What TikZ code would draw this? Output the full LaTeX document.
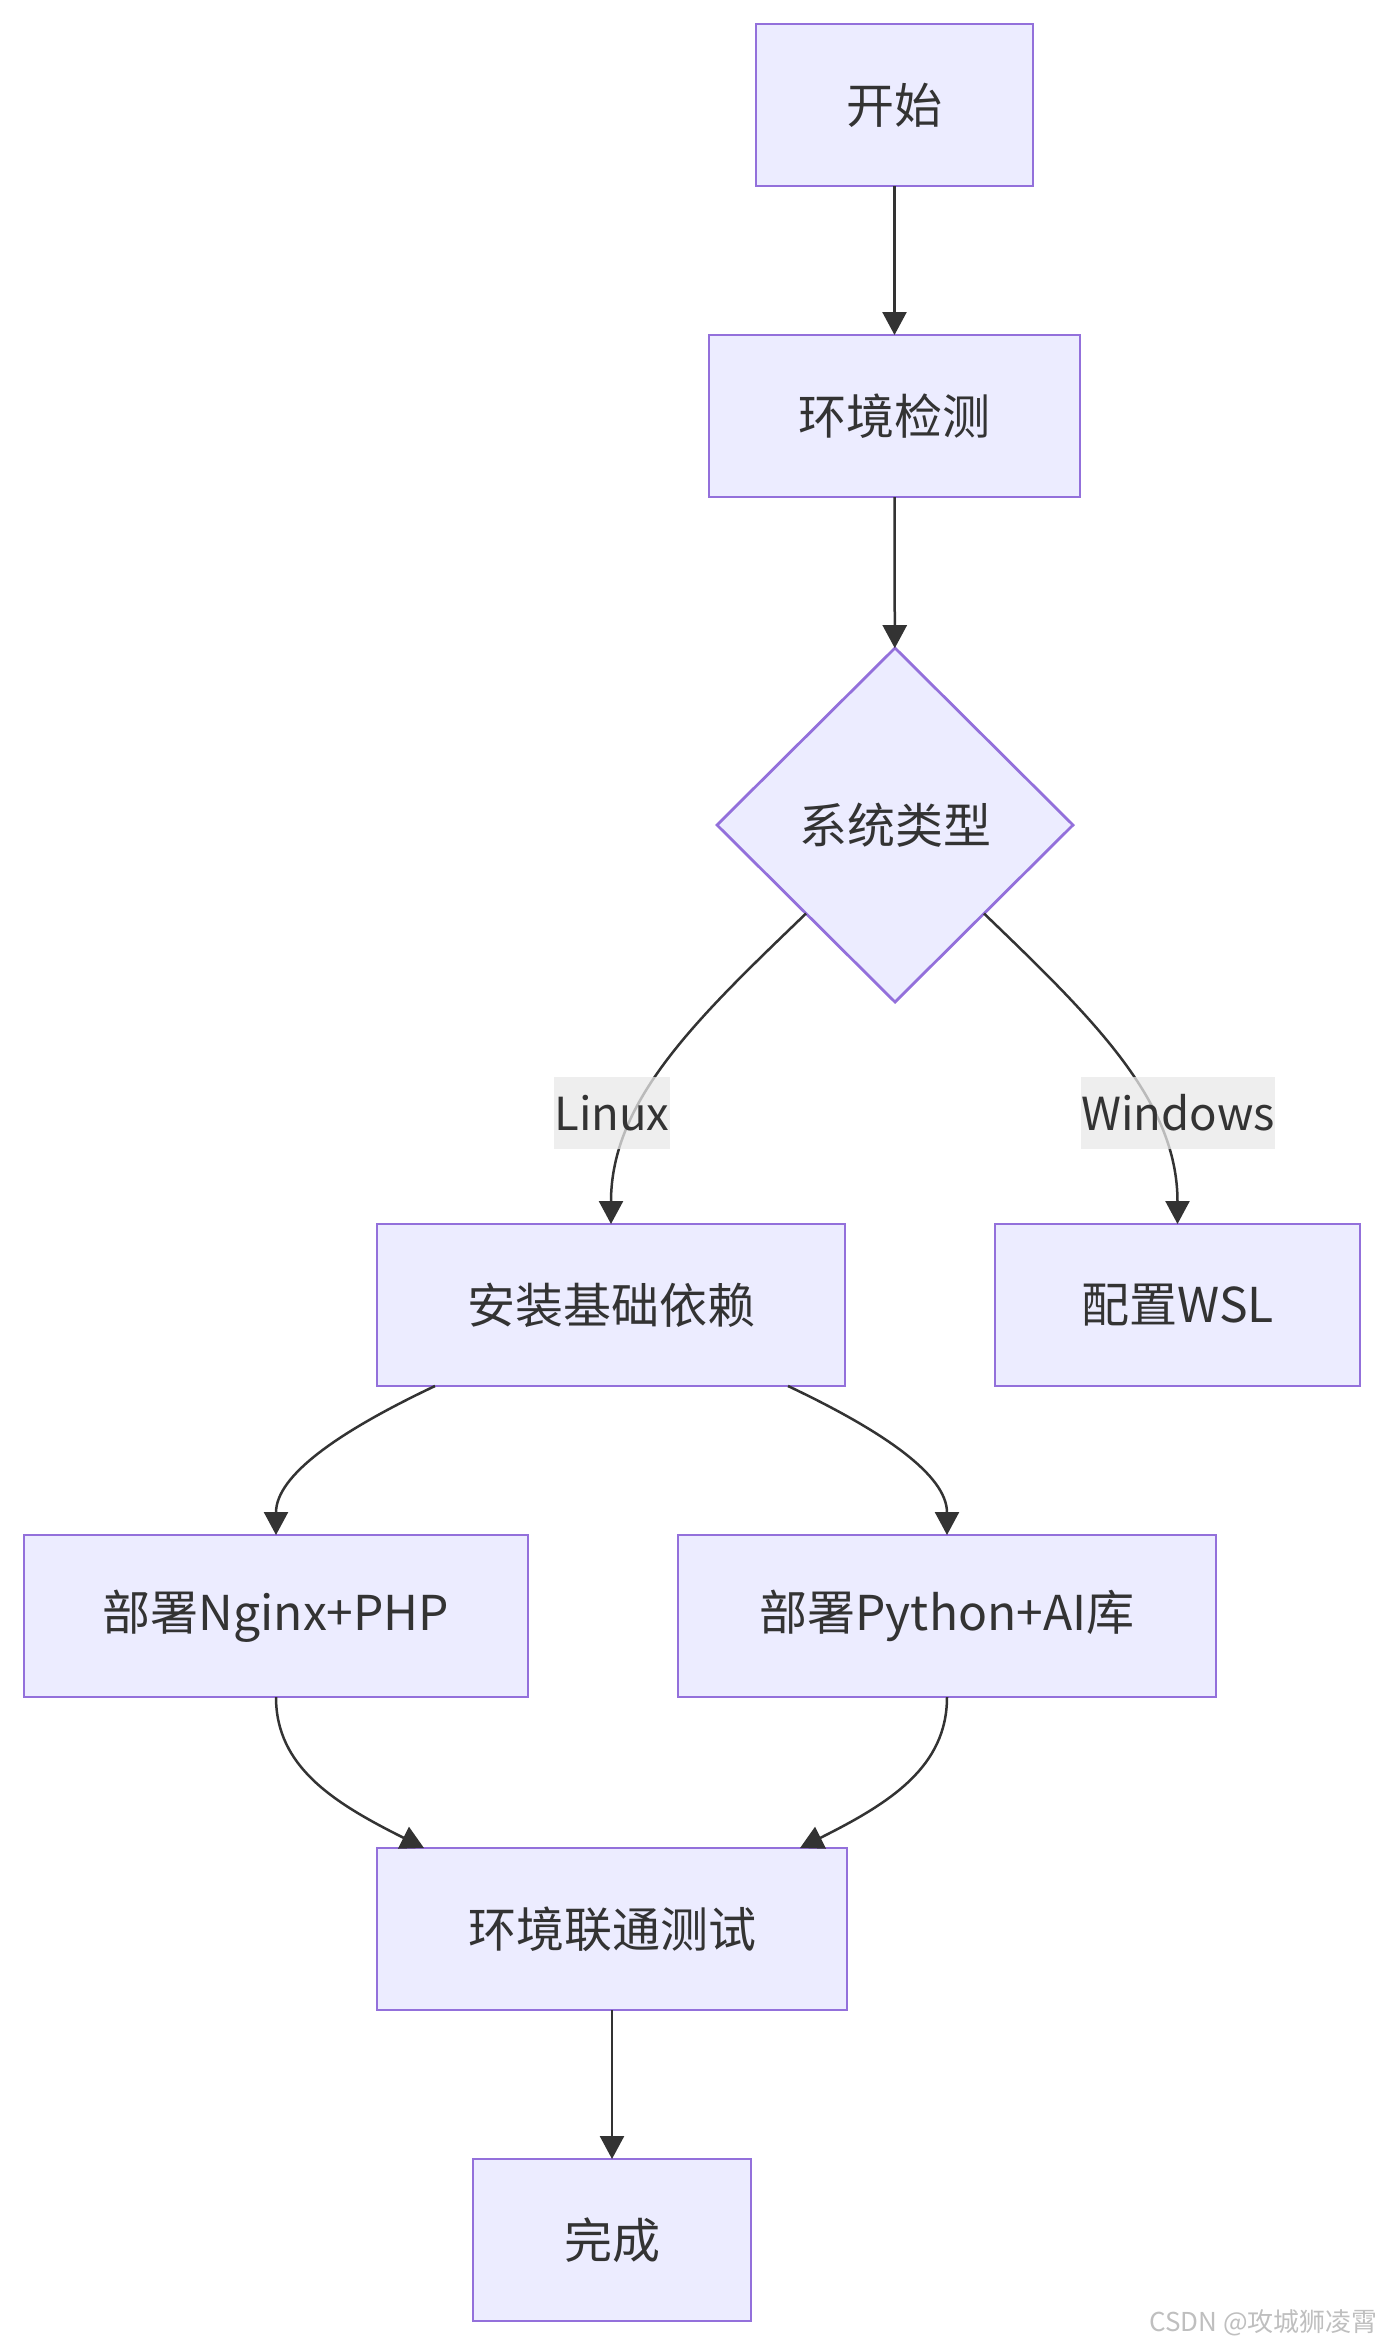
\documentclass[tikz,border=0pt]{standalone}
\usepackage{fontspec}
\setmainfont{Noto Sans CJK SC}
\usetikzlibrary{arrows.meta,shapes.geometric}
\definecolor{node fill color}{HTML}{ECECFF}
\definecolor{node border color}{HTML}{9370DB}
\definecolor{edge color}{HTML}{333333}
\definecolor{label background color}{HTML}{E8E8E8}
\tikzset{
    x={1pt},
    y={-1pt},
    process/.style 2 args={
        rectangle, fill=node fill color, draw=node border color,
        line width={2.8pt},
        inner sep=0pt, outer sep=0pt,
        minimum width={#1},
        minimum height={#2},
        font={\fontsize{48}{58}\selectfont\color{edge color}},
    },
    decision/.style={
        diamond, aspect=1, fill=node fill color, draw=node border color,
        line width={2.8pt},
        inner sep=0pt, outer sep=0pt,
        minimum width={356},
        minimum height={354},
        font={\fontsize{48}{58}\selectfont\color{edge color}},
    },
    flow/.style={
        draw=edge color,
        line width={2.5pt},
        -{Triangle[length=23pt,width=24pt]},
    },
    edge label/.style={
        fill=label background color, fill opacity=0.75, text opacity=1,
        inner xsep=0pt, inner ysep=0pt,
        minimum height={72},
        font={\fontsize{45.5}{56}\selectfont\color{edge color}},
    },
    watermark/.style={
        anchor=east, inner sep=0pt,
        font={\fontsize{26}{30}\selectfont\color{gray!50}},
    },
}

\begin{document}
\begin{tikzpicture}
\useasboundingbox (0,0) rectangle (1384,2346);
% nodes
\node[process={277}{162}] (start) at (894.5,105) {开始};
\node[process={371}{162}] (detect) at (894.5,416) {环境检测};
\node[decision] (ostype) at (895,825) {系统类型};
\node[process={468}{162}] (deps) at (611,1305) {安装基础依赖};
\node[process={365}{162}] (wsl) at (1177.5,1305) {配置WSL};
\node[process={504}{162}] (nginx) at (276,1616) {部署Nginx+PHP};
\node[process={538}{162}] (python) at (947,1616) {部署Python+AI库};
\node[process={470}{162}] (test) at (612,1929) {环境联通测试};
\node[process={278}{162}] (done) at (612,2240) {完成};
% edges
\draw[flow] (start) -- (detect);
\draw[flow] (detect) -- (ostype);
\draw[flow] (ostype.south west) .. controls +(-108,104) and +(0,-124) .. (deps.north);
\draw[flow] (ostype.south east) .. controls +(108,104) and +(0,-124) .. (wsl.north);
\draw[flow] ([xshift=-176]deps.south) .. controls +(-95,45) and +(0,-60) .. (nginx.north);
\draw[flow] ([xshift=177]deps.south) .. controls +(95,45) and +(0,-60) .. (python.north);
\draw[flow] (nginx.south) .. controls +(0,70) and +(-90,-45) .. ([xshift=-188]test.north);
\draw[flow] (python.south) .. controls +(0,70) and +(90,-45) .. ([xshift=188]test.north);
\draw[flow] (test) -- (done);
% edge labels
\node[edge label] (linuxlabel) at (612,1113) {Linux};
\node[edge label] (windowslabel) at (1178,1113) {Windows};
% watermark
\node[watermark] (mark) at (1378,2323) {CSDN @攻城狮凌霄};
\end{tikzpicture}
\end{document}
